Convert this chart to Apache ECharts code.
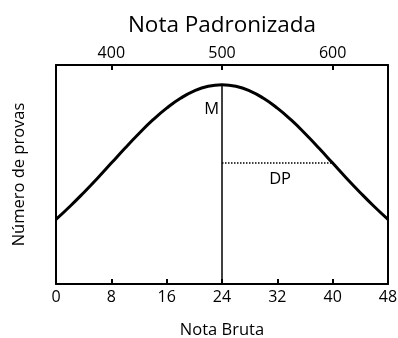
<!DOCTYPE html>
<html lang="pt">
<head>
    <meta charset="UTF-8">
    <title>Nota Padronizada</title>
    <script src="https://cdn.jsdelivr.net/npm/echarts@6/dist/echarts.min.js"></script>
</head>
<body style="margin:0">
<div id="my" style="width:398px;height:338px"></div>
<script>
    // nota bruta (eixo inferior)
    var notaBruta = [0,2,4,6,8,10,12,14,16,18,20,22,24,26,28,30,32,34,36,38,40,42,44,46,48]
    // altura da curva
    var numProvas = [29.5,35.4,41.7,48.3,55.2,62.1,68.7,74.9,80.3,84.8,88.2,90.3,91,
                     90.3,88.2,84.8,80.3,74.9,68.7,62.1,55.2,48.3,41.7,35.4,29.5]
    var padronTicks = [400,500,600]
    var media = 24, pico = 91
    var dp = 40, alturaDp = 55.2

    var font = 'Open Sans'
    var mCharts = echarts.init(document.getElementById('my'))

    var curva = []
    for (var i = 0; i < notaBruta.length; i++) {
        curva.push([notaBruta[i], numProvas[i]])
    }

    var option = {
        animation: false,
        textStyle: {fontFamily: font, color: '#000'},
        grid: {left: 56, right: 10, top: 65, bottom: 54, outerBoundsMode: 'none', containLabel: false},
        xAxis: [
            {
                type: 'value', position: 'bottom',
                min: 0, max: 48, interval: 8,
                name: 'Nota Bruta', nameLocation: 'middle', nameGap: 38,
                nameTextStyle: {fontSize: 16.5, fontFamily: font, color: '#000'},
                axisLine: {onZero: false, lineStyle: {color: '#000', width: 2}},
                axisTick: {inside: true, length: 5, lineStyle: {color: '#000', width: 2}},
                axisLabel: {fontSize: 16, color: '#000', margin: 5, fontFamily: font},
                splitLine: {show: false}
            },
            {
                type: 'value', position: 'top',
                min: 350, max: 650,
                name: 'Nota Padronizada', nameLocation: 'middle', nameGap: 28,
                nameTextStyle: {fontSize: 22.5, fontFamily: font, color: '#000'},
                axisLine: {onZero: false, lineStyle: {color: '#000', width: 2}},
                axisTick: {inside: true, length: 5, customValues: padronTicks, lineStyle: {color: '#000', width: 2}},
                axisLabel: {fontSize: 16, color: '#000', margin: 4, fontFamily: font, customValues: padronTicks},
                splitLine: {show: false}
            }
        ],
        yAxis: [
            {
                type: 'value', min: 0, max: 100,
                name: 'Número de provas', nameLocation: 'middle', nameGap: 28,
                nameTextStyle: {fontSize: 16.5, fontFamily: font, color: '#000'},
                axisLine: {show: true, onZero: false, lineStyle: {color: '#000', width: 2}},
                axisTick: {show: false}, axisLabel: {show: false}, splitLine: {show: false}
            },
            {
                type: 'value', min: 0, max: 100, position: 'right',
                axisLine: {show: true, onZero: false, lineStyle: {color: '#000', width: 2}},
                axisTick: {show: false}, axisLabel: {show: false}, splitLine: {show: false}
            }
        ],
        series: [
            {
                type: 'line',
                data: curva,
                smooth: true,
                showSymbol: false,
                lineStyle: {color: '#000', width: 3},
                markLine: {
                    silent: true,
                    symbol: 'none',
                    label: {show: false},
                    data: [
                        [{coord: [media, 0], lineStyle: {type: 'solid', width: 1.5, color: '#000'}}, {coord: [media, pico]}],
                        [{coord: [media, alturaDp], lineStyle: {type: 'dotted', width: 1.5, color: '#000'}}, {coord: [dp, alturaDp]}]
                    ]
                },
                markPoint: {
                    silent: true,
                    symbol: 'circle',
                    symbolSize: 0,
                    itemStyle: {color: 'transparent'},
                    label: {show: true, position: 'inside', color: '#000', fontSize: 16.5, fontFamily: font},
                    data: [
                        {coord: [22.5, 79.6], value: 'M', label: {formatter: 'M'}},
                        {coord: [32.4, 48], value: 'DP', label: {formatter: 'DP'}}
                    ]
                }
            }
        ]
    }
    mCharts.setOption(option)
</script>
</body>
</html>
